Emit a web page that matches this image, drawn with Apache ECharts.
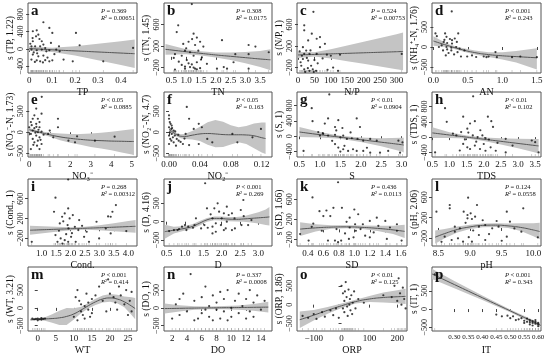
<!DOCTYPE html>
<html><head><meta charset="utf-8">
<script src="https://cdn.jsdelivr.net/npm/echarts@6/dist/echarts.min.js"></script>
<style>html,body{margin:0;padding:0;background:#fff}#c{width:550px;height:356px}</style>
</head><body><div id="c"></div>
<script>
// ---------- data ----------
const ptsA=[[0.062,616],[0.016,408],[0.033,430],[0.088,485],[0.101,370],[0.03,290],[0.045,230],[0.055,177],[0.016,177],[0.01,60],[0.026,60],[0.048,60],[0.062,100],[0.01,-15],[0.033,-30],[0.055,-15],[0.075,-55],[0.088,-30],[0.118,-15],[0.13,60],[0.133,-55],[0.016,-130],[0.04,-170],[0.062,-154],[0.01,-246],[0.033,-262],[0.048,-285],[0.088,-285],[0.101,-262],[0.204,370],[0.22,85],[0.19,-285],[0.15,-246],[0.323,-285],[0.453,23],[0.005,120],[0.02,-80],[0.07,20],[0.04,330],[0.08,-200],[0.11,-120],[0.025,-300],[0.06,-310],[0.015,250],[0.095,140],[0.07,-260],[0.035,-100]];
const bxA=[0,0.1,0.2,0.3,0.4,0.46], fitA=[10,-20,-45,-70,-95,-110], loA=[-40,-70,-150,-260,-370,-440], hiA=[60,30,60,120,180,220];

const ptsB=[[1.19,980],[0.73,586],[0.68,460],[1.25,430],[1.36,358],[1.08,280],[0.9,240],[1.47,280],[1.3,220],[1.58,190],[0.96,115],[1.13,85],[1.41,115],[0.62,50],[0.85,20],[1.25,20],[1.53,-10],[1.02,-60],[1.36,-100],[1.19,-140],[0.62,-235],[0.96,-220],[1.13,-190],[1.3,-220],[1.47,-210],[1.7,-130],[2.04,-220],[2.21,310],[2.27,-190],[2.38,-220],[2.66,50],[2.6,-100],[3.11,50],[3.11,220],[3.34,190],[3.79,85],[3.11,-220],[0.85,-150],[0.96,-180],[1.25,-200],[1.36,-230],[1.08,-120],[0.75,-90],[0.58,-20],[1.5,-50],[1.0,160],[1.2,330]];
const bxB=[0.3,1,1.5,2,2.5,3,3.5,3.85], fitB=[140,95,65,35,10,-15,-40,-55], loB=[40,50,25,-10,-60,-120,-190,-250], hiB=[240,140,105,80,80,90,110,140];

const ptsC=[[47,836],[19,586],[19,492],[42,430],[57,336],[67,368],[82,242],[31,305],[67,180],[15,180],[25,117],[19,55],[35,55],[57,55],[88,40],[128,40],[15,-40],[31,-70],[50,-60],[10,-165],[19,-230],[35,-260],[45,-230],[55,-260],[40,-165],[107,-200],[122,-260],[316,55],[8,-100],[27,-20],[60,-120],[75,-30],[12,20],[30,-210],[48,-280],[22,-280],[5,100],[90,-240],[38,120],[100,20]];
const bxC=[0,50,100,150,200,250,300,320], fitC=[35,45,55,65,75,85,95,100], loC=[-20,5,-30,-80,-130,-180,-230,-250], hiC=[90,85,140,210,280,350,420,450];

const ptsD=[[0.266,890],[0.17,340],[0.36,340],[0.19,254],[0.27,170],[0.31,212],[0.05,270],[0.15,127],[0.2,100],[0.27,85],[0.34,127],[0.19,0],[0.26,-17],[0.33,0],[0.14,-85],[0.26,-85],[0.45,-85],[0.18,-210],[0.3,-185],[0.4,-237],[0.49,-237],[0.56,-210],[0.73,-237],[0.77,-254],[0.9,-127],[0.92,-254],[1.14,-254],[1.26,-237],[1.5,-254],[0.08,0],[0.03,340],[0.22,-150],[0.35,-130],[0.12,40],[0.24,200],[0.2,-60],[0.38,-40],[0.62,-250],[0.8,-240],[0.16,180]];
const bxD=[0,0.2,0.4,0.6,0.8,1.0,1.2,1.5], fitD=[150,40,-60,-140,-190,-220,-240,-270], loD=[30,0,-100,-190,-250,-310,-390,-560], hiD=[270,80,-20,-90,-130,-130,-100,-30];

const ptsE=[[0.61,846],[0.34,564],[0.25,403],[0.6,443],[0.17,322],[0.42,322],[0.08,242],[0.34,200],[0.5,242],[0.0,120],[0.25,97],[0.5,120],[0.17,40],[0.42,0],[0.6,16],[0.08,-40],[0.34,-80],[0.5,-120],[0.17,-160],[0.42,-200],[0.25,-240],[0.6,-280],[0.38,-320],[0.08,-400],[0.5,-400],[1.0,40],[1.4,322],[1.4,120],[1.17,-120],[0.92,-40],[1.91,-200],[2.23,-240],[2.33,-97],[3.2,-200],[4.16,-105],[0.3,-10],[0.45,60],[0.2,-300],[0.55,-180],[0.12,170],[0.7,-60],[0.35,130]];
const bxE=[0,0.5,1,1.5,2,2.5,3,3.5,4,4.5,5,5.1], fitE=[60,0,-60,-110,-145,-170,-190,-200,-210,-215,-220,-220], loE=[20,-30,-110,-190,-250,-300,-350,-390,-430,-480,-530,-550], hiE=[100,30,-10,-30,-40,-40,-30,-10,10,40,70,80];

const ptsF=[[0.023,605],[0.026,322],[0.0,403],[0.0,322],[0.001,242],[0.0035,160],[0.0,120],[0.003,80],[0.006,40],[0.001,0],[0.0035,-40],[0.0,-80],[0.0075,-80],[0.0015,-160],[0.01,-160],[0.006,-240],[0.0125,-200],[0.018,-280],[0.0,-280],[0.009,-320],[0.026,-306],[0.0215,-40],[0.032,80],[0.0385,200],[0.0425,120],[0.0385,-280],[0.0495,-160],[0.056,-240],[0.082,-40],[0.0885,-240],[0.108,-120],[0.119,80],[0.002,200],[0.005,-120],[0.012,-60],[0.004,100],[0.015,-230],[0.008,20],[0.003,-200],[0.02,-150]];
const bxF=[0,0.005,0.01,0.015,0.02,0.03,0.04,0.05,0.06,0.07,0.08,0.09,0.1,0.11,0.12,0.125], fitF=[70,0,-60,-95,-100,-70,-40,-30,-40,-55,-60,-60,-65,-85,-130,-150], loF=[20,-40,-100,-140,-160,-170,-210,-300,-360,-350,-290,-240,-280,-380,-480,-520], hiF=[120,40,-20,-50,-40,30,130,240,290,250,170,120,150,210,230,230];

const ptsG=[[1.23,1086],[0.8,730],[0.82,392],[1.12,330],[1.2,463],[1.45,418],[1.37,240],[1.55,214],[1.9,463],[1.98,240],[1.08,62],[1.0,18],[1.2,18],[1.37,36],[1.5,-27],[1.57,18],[1.66,-71],[1.78,-53],[1.92,-71],[2.06,-116],[2.23,-71],[2.39,-116],[1.37,-205],[1.45,-294],[1.57,-338],[1.69,-383],[1.81,-338],[1.6,-250],[1.9,-383],[2.06,-383],[2.23,-427],[2.47,-427],[2.67,-383],[2.92,-116],[2.96,-427],[3.02,-160],[0.6,-383],[0.96,107],[1.07,80],[1.4,150],[1.75,100],[1.3,-120],[1.5,-400],[2.15,-300]];
const bxG=[0.5,1.0,1.5,2.0,2.5,3.0,3.05], fitG=[110,40,-25,-90,-155,-220,-230], loG=[-20,-30,-65,-150,-260,-400,-420], hiG=[240,110,15,-30,-50,-40,-40];

const ptsH=[[1.69,1068],[0.87,756],[0.92,400],[1.4,534],[1.6,356],[1.74,418],[2.12,534],[2.22,418],[2.27,267],[1.52,222],[1.34,133],[1.1,89],[1.2,44],[1.68,44],[1.82,0],[1.96,44],[2.05,-27],[2.15,-62],[2.64,-44],[1.4,-178],[1.52,-267],[1.6,-311],[1.74,-222],[1.89,-311],[2.05,-356],[2.2,-267],[2.35,-356],[2.64,-400],[2.84,-222],[3.4,-89],[3.5,-133],[3.6,-400],[0.58,-400],[1.55,120],[1.9,180],[1.45,-60],[1.78,-120],[2.0,-180],[2.4,-150],[1.3,-350]];
const bxH=[0.5,1.0,1.5,2.0,2.5,3.0,3.5,3.6], fitH=[110,55,0,-55,-110,-165,-220,-230], loH=[-20,-20,-35,-100,-190,-290,-400,-430], hiH=[260,130,40,-10,-30,-40,-50,-50];

const ptsI=[[1.92,990],[1.48,620],[1.43,335],[1.92,403],[1.71,234],[1.8,302],[1.97,200],[2.08,268],[2.3,166],[1.63,98],[1.9,64],[1.93,-3],[2.15,30],[2.27,-37],[2.56,-71],[2.9,132],[3.22,-3],[3.39,234],[3.45,335],[3.57,471],[1.48,-139],[1.66,-207],[1.8,-241],[1.92,-275],[2.02,-173],[1.55,-275],[1.72,-309],[2.18,-275],[2.47,-173],[2.64,-275],[2.99,-207],[3.39,-105],[3.93,-58],[0.66,-275],[1.6,-50],[2.05,-100],[1.75,140],[2.4,50],[3.3,240],[1.85,-120]];
const bxI=[0.6,1.5,2.0,2.5,3.0,3.5,4.0,4.25], fitI=[-40,-20,-10,0,10,22,34,40], loI=[-130,-70,-40,-30,-40,-60,-80,-90], hiI=[50,30,20,30,60,100,150,170];

const ptsJ=[[1.55,1045],[2.59,590],[2.14,409],[1.89,500],[1.8,364],[1.6,364],[1.93,273],[2.06,227],[2.19,182],[2.28,227],[2.52,318],[2.35,91],[2.0,91],[2.14,0],[1.84,-45],[1.75,91],[1.53,-91],[1.44,-182],[1.62,-164],[1.75,-136],[1.98,-91],[2.11,-182],[2.28,-227],[2.36,-182],[2.54,-91],[2.81,45],[2.72,-91],[1.84,-273],[2.06,-227],[0.57,-255],[0.7,-227],[0.84,-200],[0.92,-136],[1.0,-91],[1.09,-136],[1.22,-164],[0.8,-227],[1.04,-227],[1.3,91],[1.75,-318],[1.26,-91],[2.6,150],[1.7,200]];
const bxJ=[0.45,0.7,1.0,1.2,1.4,1.6,1.8,2.0,2.2,2.4,2.6,2.8,3.0,3.2,3.3], fitJ=[-270,-230,-180,-130,-40,50,90,85,70,65,75,90,105,120,130], loJ=[-460,-320,-240,-190,-100,0,40,30,15,5,0,-20,-50,-90,-100], hiJ=[-80,-140,-120,-70,20,100,140,140,125,125,150,200,260,330,400];

const ptsK=[[0.79,935],[0.46,635],[0.55,362],[0.64,375],[0.73,427],[0.84,427],[0.69,265],[0.6,265],[1.0,395],[0.94,232],[1.01,102],[1.11,102],[1.2,167],[1.29,232],[1.31,70],[1.4,167],[1.46,37],[1.55,102],[0.47,115],[0.45,50],[0.58,-27],[0.77,5],[0.94,37],[1.02,-27],[1.08,5],[0.99,-157],[0.93,-190],[1.14,-125],[1.2,-157],[1.42,-190],[1.61,-222],[0.41,-222],[0.66,-222],[0.75,-222],[0.79,-255],[0.83,-222],[0.3,-92],[1.55,-27],[0.9,150],[1.05,300],[0.88,-80],[1.25,-60]];
const bxK=[0.3,0.5,0.7,0.9,1.1,1.3,1.5,1.65], fitK=[5,30,45,50,40,20,-10,-40], loK=[-130,-40,10,20,5,-30,-90,-170], hiK=[140,100,80,80,75,70,70,90];

const ptsL=[[8.97,590],[8.68,447],[8.68,382],[8.9,317],[8.96,252],[9.01,285],[8.96,187],[9.03,174],[9.11,447],[9.08,220],[9.42,135],[9.58,317],[9.63,122],[9.84,382],[8.47,317],[8.76,24],[8.84,-8],[9.14,24],[9.24,57],[9.35,-8],[9.45,24],[8.76,-73],[8.6,-170],[8.71,-235],[8.81,-203],[8.89,-268],[9.03,-268],[9.14,-138],[9.24,-235],[9.58,-170],[9.81,-73],[10.07,-183],[8.93,100],[9.05,-50],[9.3,-120],[9.5,-250],[8.55,-270],[8.98,-180],[9.7,-10],[9.2,150]];
const bxL=[8.45,8.6,8.8,9.0,9.2,9.4,9.6,9.8,10.0,10.1], fitL=[-180,-110,-30,20,50,55,40,10,-40,-70], loL=[-310,-200,-90,-20,15,20,0,-60,-160,-220], hiL=[-50,-20,30,60,85,90,85,90,90,100];

const ptsM=[[-1.5,-300],[-1,-320],[-0.5,-310],[0,-300],[0.5,-320],[1,-330],[1.5,-310],[2,-300],[0,-350],[1,-290],[10,-250],[10.5,300],[11,500],[11.5,200],[12,100],[12,-100],[12.5,-200],[13,50],[13,-300],[13.5,400],[14,-50],[14,150],[14.5,-250],[15,250],[15,-150],[17,600],[18,200],[19,-100],[20,400],[21,300],[21.5,150],[22,-50],[23,350],[24,100],[25,-200],[25.5,200],[26,450],[26,-100],[19.5,800],[22.5,600],[11,-350],[16,350],[24.5,500]];
const bxM=[-2,0,2,4,6,8,10,12,14,16,18,20,22,24,26,27], fitM=[-330,-320,-310,-300,-280,-240,-170,-60,60,170,250,280,250,170,50,-20], loM=[-370,-350,-360,-420,-480,-480,-330,-150,-20,80,150,170,130,20,-200,-320], hiM=[-290,-290,-260,-180,-80,0,-10,30,140,260,350,390,370,320,300,280];

const ptsN=[[2,-300],[2.5,100],[3,-200],[3.5,400],[4,-100],[4.5,950],[5,200],[5.5,-300],[6,300],[6,-150],[6.5,600],[7,50],[7,-250],[7.5,350],[8,-50],[8,150],[8.5,-300],[9,250],[9,-100],[9.5,500],[10,0],[10,-250],[10.5,200],[11,-150],[11,400],[11.5,50],[12,-300],[12,250],[12.5,-100],[13,150],[13,-250],[13.5,350],[14,-50],[14.5,200],[3,250],[5,-350],[7.5,-350],[9.5,-350],[12.5,500],[8.5,450],[6.5,-50]];
const bxN=[1,3,5,7,9,11,13,15], fitN=[-20,-12,-5,0,5,10,16,22], loN=[-160,-100,-55,-40,-40,-50,-80,-130], hiN=[120,76,45,40,50,70,112,174];

const ptsO=[[-140,-300],[-120,-350],[-100,-250],[-90,-380],[-70,-200],[-60,-320],[-40,-150],[-30,-280],[-20,-100],[-10,-350],[0,500],[5,300],[10,100],[10,-200],[15,600],[18,200],[20,-50],[22,-300],[25,400],[28,0],[30,150],[32,-150],[35,250],[38,-250],[40,50],[45,350],[50,-100],[60,150],[80,50],[180,200],[190,500],[200,100],[205,700],[210,300],[215,0],[220,450],[225,150],[230,-100],[5,-100],[12,350],[150,250]];
const bxO=[-150,-100,-50,0,50,100,150,200,230], fitO=[-400,-280,-150,-30,80,150,190,210,220], loO=[-620,-420,-240,-90,30,70,60,40,20], hiO=[-180,-140,-60,30,130,230,320,380,420];

const ptsP=[[0.23,950],[0.45,-150],[0.47,-200],[0.5,-250],[0.52,-300],[0.53,-280],[0.55,-320],[0.55,-380],[0.56,-350],[0.57,-300],[0.57,-420],[0.58,-380],[0.58,-330],[0.59,-400],[0.59,-350],[0.6,-420],[0.6,-380],[0.54,-250],[0.51,-200],[0.49,-180],[0.56,-260],[0.58,-450],[0.6,-470],[0.57,-360],[0.59,-300]];
const bxP=[0.22,0.3,0.4,0.5,0.6,0.61], fitP=[960,670,310,-50,-410,-450], loP=[820,570,250,-90,-460,-500], hiP=[1100,770,370,-10,-360,-400];

// axis domains and ticks
const xRange=[[-0.005,0.47],[0.25,3.9],[-3,332],[-0.02,1.56],[-0.06,5.25],[-0.0065,0.1333],[0.44,3.13],[0.49,3.67],[0.53,4.3],[0.43,3.37],[0.26,1.68],[8.40,10.12],[-2.7,27.5],[0.9,15.5],[-160,235],[0.22,0.61]];
const yRange=[[-555,1060],[-300,1000],[-300,1000],[-650,1100],[-590,960],[-590,960],[-540,1150],[-520,1180],[-360,1000],[-660,1160],[-330,1000],[-352,954],[-650,1150],[-650,1150],[-700,1000],[-600,1150]];
const xTickLabels=[
 ["0","0.1","0.2","0.3","0.4"],["0.5","1.0","1.5","2.0","2.5","3.0","3.5"],["0","50","100","150","200","250","300"],["0.0","0.5","1.0","1.5"],
 ["0","1","2","3","4","5"],["0.00","0.04","0.08","0.12"],["0.5","1.0","1.5","2.0","2.5","3.0"],["0.5","1.0","1.5","2.0","2.5","3.0","3.5"],
 ["1.0","1.5","2.0","2.5","3.0","3.5","4.0"],["0.5","1.0","1.5","2.0","2.5","3.0"],["0.4","0.6","0.8","1.0","1.2","1.4","1.6"],["8.5","9.0","9.5","10.0"],
 ["0","5","10","15","20","25"],["2","4","6","8","10","12","14"],["-100","0","100","200"],["0.30","0.35","0.40","0.45","0.50","0.55","0.60"]];
const yTicks=[[-400,0,400,800],[-200,200,600],[-200,200,600],[-500,0,500],[-500,0,500],[-500,0,500],[-400,0,400,800],[-400,0,400,800],[-200,200,600],[-500,0,500],[-200,200,600],[-200,200,600],[-500,0,500],[-500,0,500],[-500,0,500],[-500,0,500]];
const xNames=["TP","TN","N/P","AN","NO₃⁻","NO₂⁻","S","TDS","Cond.","D","SD","pH","WT","DO","ORP","IT"];
const yNames=["s (TP, 1.22)","s (TN, 1.45)","s (N/P, 1)","s (NH₄⁺-N, 1.76)","s (NO₃⁻-N, 1.73)","s (NO₂⁻-N, 4.7)","s (S, 1)","s (TDS, 1)","s (Cond., 1)","s (D, 4.16)","s (SD, 1.66)","s (pH, 2.06)","s (WT, 3.21)","s (DO, 1)","s (ORP, 1.86)","s (IT, 1)"];
const panelLetters=["a","b","c","d","e","f","g","h","i","j","k","l","m","n","o","p"];
const pValues=["= 0.369","= 0.308","= 0.524","< 0.001","< 0.05","< 0.05","< 0.01","< 0.01","= 0.268","< 0.001","= 0.436","= 0.124","< 0.001","= 0.337","< 0.01","< 0.001"];
const r2Values=["0.00651","0.0175","0.00753","0.243","0.0885","0.163","0.0904","0.102","0.00312","0.269","0.0113","0.0558","0.414","0.0008","0.125","0.343"];

const points=[ptsA,ptsB,ptsC,ptsD,ptsE,ptsF,ptsG,ptsH,ptsI,ptsJ,ptsK,ptsL,ptsM,ptsN,ptsO,ptsP];
const bandX=[bxA,bxB,bxC,bxD,bxE,bxF,bxG,bxH,bxI,bxJ,bxK,bxL,bxM,bxN,bxO,bxP];
const fits=[fitA,fitB,fitC,fitD,fitE,fitF,fitG,fitH,fitI,fitJ,fitK,fitL,fitM,fitN,fitO,fitP];
const lows=[loA,loB,loC,loD,loE,loF,loG,loH,loI,loJ,loK,loL,loM,loN,loO,loP];
const highs=[hiA,hiB,hiC,hiD,hiE,hiF,hiG,hiH,hiI,hiJ,hiK,hiL,hiM,hiN,hiO,hiP];

// ---------- layout ----------
const FONT='"Liberation Serif","Times New Roman",serif';
const colL=[28,164,297,432], colW=[109,108,110,109];
const rowT=[3,92,179,267], rowH=[70,65,67,66];

const grids=[],xAxes=[],yAxes=[],series=[],graphics=[];
for(let i=0;i<16;i++){
  const r=Math.floor(i/4), c=i%4;
  const gl=colL[c], gt=rowT[r], gw=colW[c], gh=rowH[r];
  grids.push({left:gl,top:gt,width:gw,height:gh,show:true,borderColor:'#555',borderWidth:1,backgroundColor:'#fff'});
  const xt=xTickLabels[i].map(Number), xl=xTickLabels[i];
  xAxes.push({gridIndex:i,type:'value',min:xRange[i][0],max:xRange[i][1],
    axisLine:{show:false},splitLine:{show:false},
    axisTick:{show:true,length:3,customValues:xt,lineStyle:{color:'#444'}},
    axisLabel:{customValues:xt,hideOverlap:false,formatter:v=>{const k=xt.indexOf(v);return k>=0?xl[k].replace('-','−'):String(v);},fontFamily:FONT,fontSize:(i===15?7:9),color:'#111',margin:3},
    name:xNames[i],nameLocation:'middle',nameGap:14,nameTextStyle:{fontFamily:FONT,fontSize:10,color:'#111'}});
  const yt=yTicks[i];
  yAxes.push({gridIndex:i,type:'value',min:yRange[i][0],max:yRange[i][1],
    axisLine:{show:false},splitLine:{show:false},
    axisTick:{show:true,length:3,customValues:yt,lineStyle:{color:'#444'}},
    axisLabel:{customValues:yt,hideOverlap:false,rotate:90,formatter:v=>v<0?'−'+Math.abs(v):String(v),fontFamily:FONT,fontSize:8,color:'#111',margin:3},
    name:yNames[i],nameLocation:'middle',nameGap:13,nameTextStyle:{fontFamily:FONT,fontSize:9.5,color:'#111'}});
  const bx=bandX[i], lo=lows[i], hi=highs[i];
  series.push({type:'custom',xAxisIndex:i,yAxisIndex:i,silent:true,z:1,data:[[bx[0],lo[0]]],
    renderItem:(params,api)=>{
      const pts=[];
      for(let k=0;k<bx.length;k++) pts.push(api.coord([bx[k],hi[k]]));
      for(let k=bx.length-1;k>=0;k--) pts.push(api.coord([bx[k],lo[k]]));
      const cs=params.coordSys;
      return {type:'group',clipPath:{type:'rect',shape:{x:cs.x,y:cs.y,width:cs.width,height:cs.height}},
        children:[{type:'polygon',shape:{points:pts},style:{fill:'#c4c4c4'}}]};
    }});
  series.push({type:'line',xAxisIndex:i,yAxisIndex:i,silent:true,z:2,smooth:true,symbol:'none',
    data:bx.map((x,k)=>[x,fits[i][k]]),lineStyle:{color:'#555',width:1}});
  series.push({type:'scatter',xAxisIndex:i,yAxisIndex:i,silent:true,z:3,symbol:'rect',symbolSize:[0.6,3],symbolOffset:[0,-1.5],
    data:points[i].map(p=>[p[0],yRange[i][0]]),itemStyle:{color:'#999'}});
  series.push({type:'scatter',xAxisIndex:i,yAxisIndex:i,silent:true,z:4,symbolSize:2.2,
    data:points[i],itemStyle:{color:'#111'}});
  graphics.push({type:'text',left:gl+3,top:gt+1,z:10,style:{text:panelLetters[i],font:'bold 15px '+FONT,fill:'#111'}});
  graphics.push({type:'text',left:gl+gw-36,top:gt+5,z:10,style:{text:'{i|P} '+pValues[i],font:'6.5px '+FONT,fill:'#111',rich:{i:{fontStyle:'italic',font:'italic 6.5px '+FONT}}}});
  graphics.push({type:'text',left:gl+gw-36,top:gt+12,z:10,style:{text:'{i|R}² = '+r2Values[i],font:'6.5px '+FONT,fill:'#111',rich:{i:{fontStyle:'italic',font:'italic 6.5px '+FONT}}}});
}

const chart=echarts.init(document.getElementById('c'),null,{renderer:'canvas'});
chart.setOption({animation:false,backgroundColor:'#fff',grid:grids,xAxis:xAxes,yAxis:yAxes,series:series,graphic:graphics});
</script></body></html>
